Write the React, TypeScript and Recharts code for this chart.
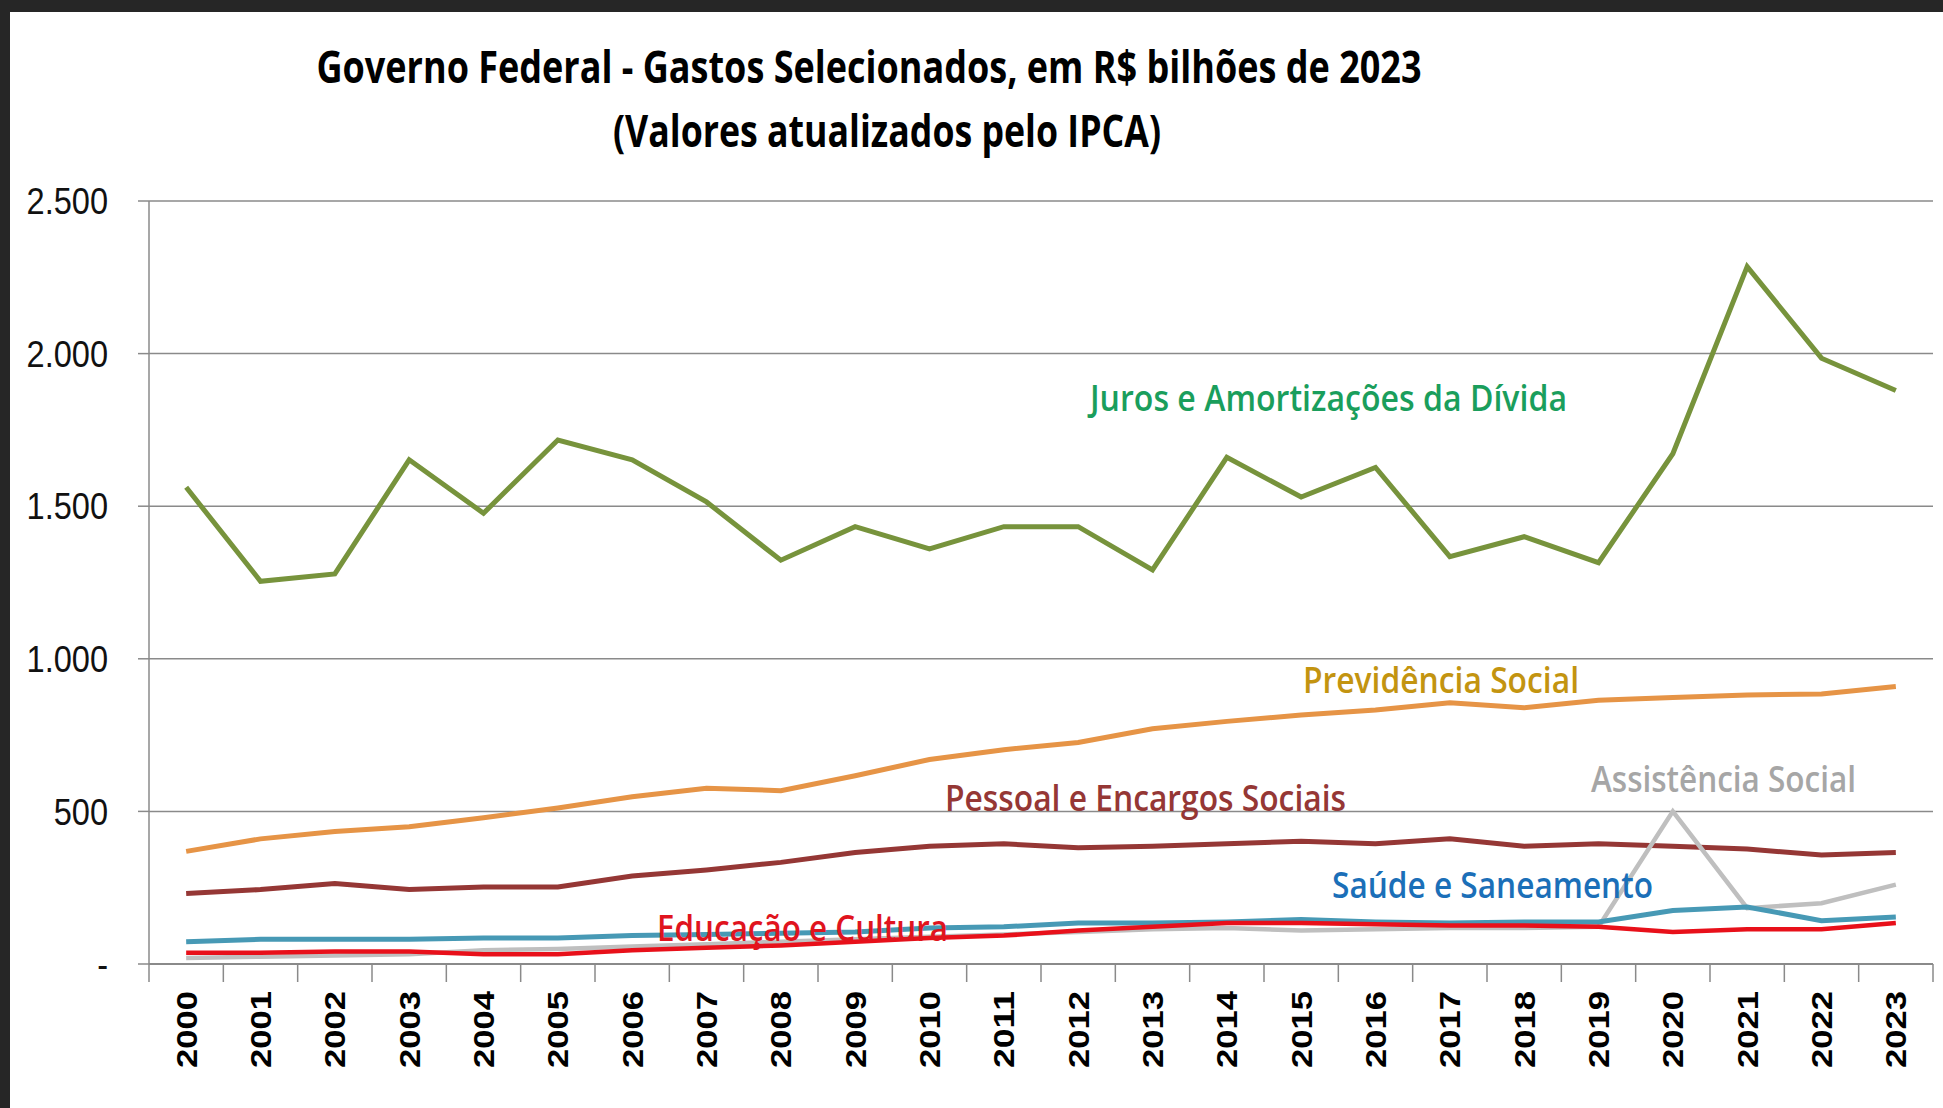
import React from "react";
import { LineChart, Line, XAxis, YAxis, CartesianGrid } from "recharts";

// valores em R$ bilhões de 2023
const years = [
  "2000", "2001", "2002", "2003", "2004", "2005", "2006", "2007", "2008", "2009", "2010", "2011",
  "2012", "2013", "2014", "2015", "2016", "2017", "2018", "2019", "2020", "2021", "2022", "2023",
];
const juros = [1562, 1254, 1278, 1652, 1477, 1717, 1652, 1514, 1323, 1433, 1360, 1433, 1433, 1291, 1660, 1530, 1627, 1335, 1400, 1315, 1672, 2285, 1985, 1879];
const previdencia = [369, 410, 434, 450, 479, 511, 548, 576, 568, 617, 670, 702, 726, 771, 795, 816, 832, 856, 840, 864, 873, 881, 885, 909];
const pessoal = [231, 244, 264, 244, 252, 252, 288, 308, 333, 365, 386, 394, 381, 386, 394, 402, 394, 410, 386, 394, 386, 377, 357, 365];
const saude = [73, 81, 81, 81, 85, 85, 93, 97, 101, 105, 118, 122, 134, 134, 138, 146, 138, 134, 138, 138, 175, 187, 142, 154];
const educacao = [37, 37, 41, 41, 32, 32, 45, 53, 61, 73, 85, 93, 110, 122, 134, 134, 130, 126, 126, 122, 105, 114, 114, 134];
const assistencia = [20, 24, 28, 32, 45, 49, 57, 65, 73, 81, 89, 97, 105, 114, 118, 110, 114, 118, 118, 122, 500, 183, 199, 260];
const yTicks = [0, 500, 1000, 1500, 2000, 2500];

const data = years.map((year, i) => ({
  year,
  juros: juros[i],
  previdencia: previdencia[i],
  pessoal: pessoal[i],
  saude: saude[i],
  educacao: educacao[i],
  assistencia: assistencia[i],
}));

const W = 1933;
const H = 1096;
const Y_AXIS_W = 130;
const X_AXIS_H = 130;
const margin = { top: 189, right: 10, bottom: 14, left: 9 };
const BAND = (W - margin.left - Y_AXIS_W - margin.right) / years.length;
const GRID = "#8a8a8a";

const fmt = (v: number) => (v === 0 ? "-" : String(v).replace(/\B(?=(\d{3})+(?!\d))/g, "."));

function YearTick({ x, y, payload, index }: any) {
  const top = y - 18;
  return (
    <g>
      <line x1={x - BAND / 2} y1={top} x2={x - BAND / 2} y2={y} stroke={GRID} strokeWidth={1.5} />
      {index === years.length - 1 && (
        <line x1={x + BAND / 2} y1={top} x2={x + BAND / 2} y2={y} stroke={GRID} strokeWidth={1.5} />
      )}
      <text
        transform={`translate(${x},${y + 9}) rotate(-90)`}
        textAnchor="end"
        dominantBaseline="central"
        fontFamily="'Liberation Sans', Arial, sans-serif"
        fontWeight="bold"
        fontSize={30}
        fill="#000"
        textLength={77}
        lengthAdjust="spacingAndGlyphs"
      >
        {payload.value}
      </text>
    </g>
  );
}

function ValueTick({ x, y, payload }: any) {
  return (
    <text
      transform={`translate(${x},${y}) scale(0.88,1)`}
      textAnchor="end"
      dominantBaseline="central"
      fontFamily="'Liberation Sans', Arial, sans-serif"
      fontSize={37}
      fill="#111"
    >
      {fmt(payload.value)}
    </text>
  );
}

const labelFont = "'Liberation Sans Narrow', 'Open Sans', sans-serif";

function Tag({ x, y, w, color, children, size = 36, weight = 600 }: any) {
  return (
    <text
      x={x}
      y={y}
      dominantBaseline="central"
      fontFamily={labelFont}
      fontSize={size}
      fontWeight={weight}
      fill={color}
      textLength={w}
      lengthAdjust="spacingAndGlyphs"
    >
      {children}
    </text>
  );
}

export default function App() {
  return (
    <div style={{ position: "fixed", left: 0, top: 0, width: 1943, height: 1108, background: "#262626" }}>
      <div style={{ position: "absolute", left: 10, top: 12, width: W, height: H, background: "#fff" }}>
        <LineChart width={W} height={H} data={data} margin={margin}>
          <CartesianGrid vertical={false} stroke={GRID} strokeWidth={1.5} />
          <XAxis
            dataKey="year"
            height={X_AXIS_H}
            padding={{ left: BAND / 2, right: BAND / 2 }}
            interval={0}
            tickLine={false}
            tickSize={18}
            tickMargin={0}
            axisLine={{ stroke: GRID, strokeWidth: 2 }}
            tick={<YearTick />}
          />
          <YAxis
            width={Y_AXIS_W}
            domain={[0, 2500]}
            ticks={yTicks}
            tickSize={11}
            tickMargin={30}
            axisLine={{ stroke: GRID, strokeWidth: 1.5 }}
            tickLine={{ stroke: GRID, strokeWidth: 1.5 }}
            tick={<ValueTick />}
          />
          <Line type="linear" dataKey="juros" stroke="#77933c" strokeWidth={5} dot={false} isAnimationActive={false} />
          <Line type="linear" dataKey="previdencia" stroke="#e69446" strokeWidth={5} dot={false} isAnimationActive={false} />
          <Line type="linear" dataKey="pessoal" stroke="#953735" strokeWidth={5} dot={false} isAnimationActive={false} />
          <Line type="linear" dataKey="assistencia" stroke="#bfbfbf" strokeWidth={4.5} dot={false} isAnimationActive={false} />
          <Line type="linear" dataKey="saude" stroke="#4799b5" strokeWidth={5} dot={false} isAnimationActive={false} />
          <Line type="linear" dataKey="educacao" stroke="#e8101a" strokeWidth={4.5} dot={false} isAnimationActive={false} />
        </LineChart>
      </div>
      <svg width={1943} height={1108} style={{ position: "absolute", left: 0, top: 0, pointerEvents: "none" }}>
        <text x={869} y={66} textAnchor="middle" dominantBaseline="central" fontFamily={labelFont} fontWeight="bold" fontSize={44} fill="#000" textLength={1105} lengthAdjust="spacingAndGlyphs">
          Governo Federal - Gastos Selecionados, em R$ bilhões de 2023
        </text>
        <text x={887} y={130} textAnchor="middle" dominantBaseline="central" fontFamily={labelFont} fontWeight="bold" fontSize={44} fill="#000" textLength={548} lengthAdjust="spacingAndGlyphs">
          (Valores atualizados pelo IPCA)
        </text>
        <Tag x={1090} y={397} w={477} color="#1a9e5c">Juros e Amortizações da Dívida</Tag>
        <Tag x={1303} y={679} w={276} color="#c39410">Previdência Social</Tag>
        <Tag x={945} y={797} w={401} color="#953735">Pessoal e Encargos Sociais</Tag>
        <Tag x={1591} y={778} w={265} color="#a6a6a6">Assistência Social</Tag>
        <Tag x={1332} y={884} w={321} color="#1b6fb8">Saúde e Saneamento</Tag>
        <Tag x={657} y={927} w={291} color="#e0141e">Educação e Cultura</Tag>
      </svg>
    </div>
  );
}
